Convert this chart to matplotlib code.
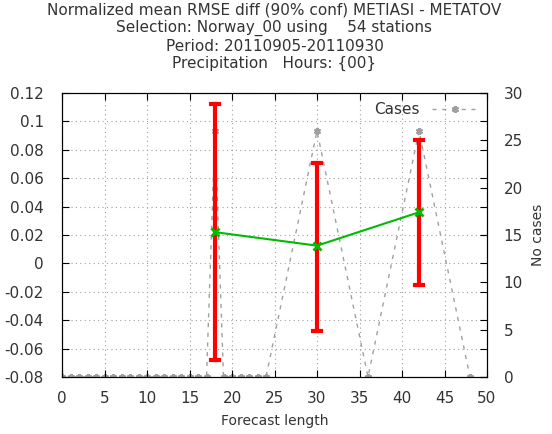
import matplotlib
matplotlib.use("Agg")
import matplotlib.pyplot as plt

# forecast lengths with scores
fc_len = [18, 30, 42]
rmse_diff = [0.022, 0.0125, 0.036]
err_low = [-0.068, -0.0475, -0.015]
err_high = [0.112, 0.0705, 0.087]

# number of cases per forecast length
case_x = [0, 1, 2, 3, 4, 5, 6, 7, 8, 9, 10, 11, 12, 13, 14, 15, 16, 17, 18,
          19, 20, 21, 22, 23, 24, 30, 36, 42, 48]
case_n = [0, 0, 0, 0, 0, 0, 0, 0, 0, 0, 0, 0, 0, 0, 0, 0, 0, 0, 26,
          0, 0, 0, 0, 0, 0, 26, 0, 26, 0]

title = ("Normalized mean RMSE diff (90% conf) METIASI - METATOV\n"
         "Selection: Norway_00 using    54 stations\n"
         "Period: 20110905-20110930\n"
         "Precipitation   Hours: {00}")

fig = plt.figure(figsize=(5.52, 4.34), dpi=100)
ax = fig.add_axes([62/552, 1-377/434, (487-62)/552, (377-93)/434])
ax2 = ax.twinx()

# cases on right axis
ax2.plot(case_x, case_n, color='#a0a0a0', ls=(0, (3, 4)), lw=1,
         marker=(6, 2, 0), ms=5, mew=1.5, label='Cases')
ax2.set_ylim(0, 30)
ax2.set_yticks(range(0, 31, 5))
ax2.set_ylabel('No cases', fontsize=10, color='#333333', labelpad=6)

# error bars + mean
for x, lo, hi in zip(fc_len, err_low, err_high):
    ax.plot([x, x], [lo, hi], color='red', lw=3, zorder=3)
    ax.plot([x - 0.5, x + 0.5], [lo, lo], color='red', lw=3, zorder=3)
    ax.plot([x - 0.5, x + 0.5], [hi, hi], color='red', lw=3, zorder=3)
ax.plot(fc_len, rmse_diff, color='#00bb00', lw=1.5, marker='x', ms=6, mew=2, zorder=4)

ax.set_zorder(ax2.get_zorder() + 1)
ax.patch.set_visible(False)

ax.set_xlim(0, 50)
ax.set_ylim(-0.08, 0.12)
ax.set_xticks(range(0, 51, 5))
ax.set_yticks([-0.08, -0.06, -0.04, -0.02, 0, 0.02, 0.04, 0.06, 0.08, 0.1, 0.12])
ax.set_yticklabels(['-0.08', '-0.06', '-0.04', '-0.02', '0', '0.02', '0.04',
                    '0.06', '0.08', '0.1', '0.12'])
ax.grid(True, color='#a0a0a0', ls=(0, (1, 3)), lw=0.8)
ax.set_xlabel('Forecast length', fontsize=10, color='#333333', labelpad=6)

for a in (ax, ax2):
    a.tick_params(direction='in', labelsize=11, labelcolor='#333333', length=5)
ax.tick_params(top=True, right=True)
ax.tick_params(axis='y', pad=13)
ax.tick_params(axis='x', pad=10)
ax2.tick_params(axis='y', pad=12)

ax.set_title(title, fontsize=11, color='#333333', linespacing=1.2, pad=18)

leg = ax2.legend(loc='upper right', frameon=False, fontsize=11, handlelength=3,
                 markerfirst=False, borderaxespad=0.2)
for t in leg.get_texts():
    t.set_color('#333333')

fig.savefig('out.png', dpi=100)
